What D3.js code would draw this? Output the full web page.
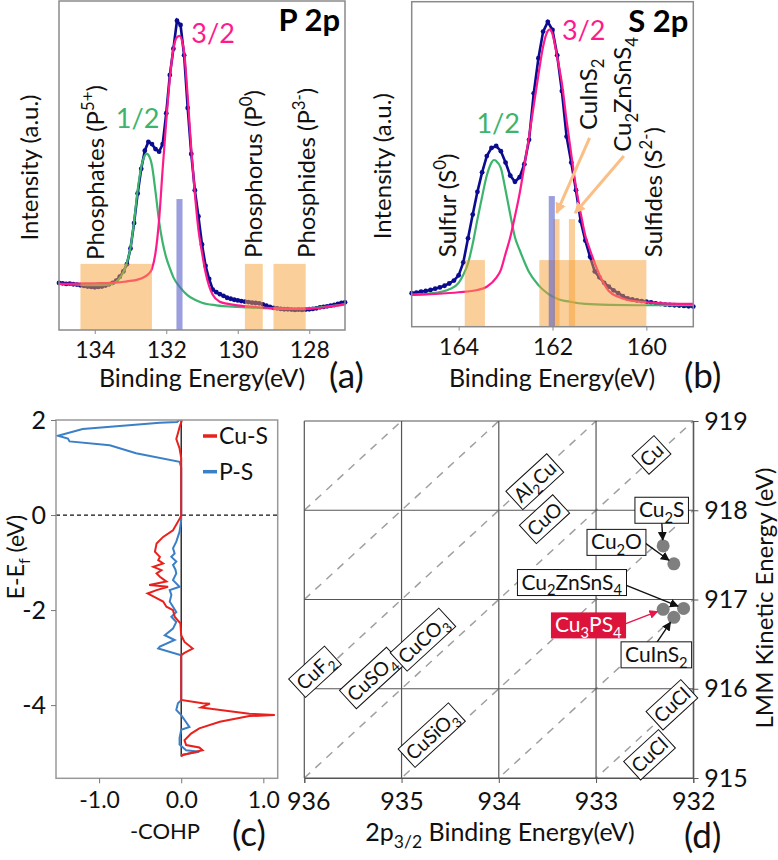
<!DOCTYPE html>
<meta charset="utf-8">
<style>
  body { margin: 0; background: #fff; }
  svg { display: block; }
</style>
<body>
<div id="my_dataviz"></div>
<script src="https://d3js.org/d3.v7.min.js"></script>
<script>

// ---------- (a) P 2p : [binding energy (eV), intensity (a.u.)] ----------
var p2pData = [
  [135.0,14.3],[134.9,14.2],[134.8,14.0],[134.7,14.1],[134.6,13.9],[134.5,13.8],[134.4,13.6],[134.3,13.4],
  [134.2,13.2],[134.1,13.1],[134.0,13.0],[133.9,13.1],[133.8,13.2],[133.7,13.5],[133.6,13.9],[133.5,14.3],
  [133.4,15.0],[133.3,16.2],[133.2,17.8],[133.1,20.0],[133.0,24.8],[132.9,32.5],[132.8,41.5],[132.7,49.0],
  [132.6,54.5],[132.5,57.2],[132.4,56.5],[132.3,55.0],[132.2,54.2],[132.1,56.5],[132.0,65.9],[131.9,77.5],
  [131.8,85.5],[131.7,94.0],[131.6,92.7],[131.5,83.5],[131.4,67.5],[131.3,53.5],[131.2,42.5],[131.1,34.5],
  [131.0,26.0],[130.9,19.5],[130.8,15.5],[130.7,12.3],[130.6,11.5],[130.5,10.9],[130.4,10.4],[130.3,9.8],
  [130.2,9.5],[130.1,9.2],[130.0,9.0],[129.9,8.8],[129.8,8.6],[129.7,8.5],[129.6,8.3],[129.5,8.2],
  [129.4,8.1],[129.3,7.8],[129.2,7.4],[129.1,7.0],[129.0,6.7],[128.9,6.6],[128.8,6.4],[128.7,6.3],
  [128.6,6.3],[128.5,6.2],[128.4,6.1],[128.3,6.2],[128.2,6.1],[128.1,6.2],[128.0,6.3],[127.9,6.4],
  [127.8,6.6],[127.7,6.9],[127.6,7.0],[127.5,7.2],[127.4,7.4],[127.3,7.6],[127.2,7.9],[127.1,8.2],[127.0,8.4]
];
var p2pFit12 = [
  [135.0,14.0],[134.5,13.8],[134.0,13.6],[133.6,13.8],[133.4,14.6],[133.3,15.8],[133.2,17.6],[133.1,20.5],
  [133.0,25.0],[132.9,33.0],[132.8,42.5],[132.7,49.5],[132.6,53.0],[132.55,53.6],[132.5,53.2],[132.4,50.0],
  [132.3,42.0],[132.2,33.0],[132.1,26.5],[132.0,22.0],[131.9,18.8],[131.8,16.0],[131.6,12.8],[131.4,10.5],
  [131.2,9.2],[131.0,8.3],[130.6,7.5],[130.0,7.0],[129.4,6.7],[128.8,6.5],[128.0,6.6],[127.5,7.1],[127.0,7.9]
];
var p2pFit32 = [
  [135.0,14.0],[134.5,14.1],[134.0,14.2],[133.5,14.3],[133.1,14.8],[132.8,15.3],[132.6,16.2],[132.5,17.0],
  [132.4,18.6],[132.3,23.5],[132.2,33.5],[132.1,49.0],[132.0,63.5],[131.9,76.5],[131.8,85.5],[131.7,89.0],
  [131.63,89.4],[131.55,87.5],[131.5,84.5],[131.4,71.0],[131.3,55.0],[131.2,41.5],[131.1,30.5],[131.0,23.5],
  [130.9,17.5],[130.8,13.3],[130.7,10.7],[130.5,8.6],[130.3,8.0],[130.0,7.5],[129.5,7.0],[129.0,6.6],
  [128.5,6.4],[128.0,6.5],[127.5,7.0],[127.0,7.8]
];
var p2pRanges = [[134.4,132.4,20.1],[129.8,129.3,20.1],[129.0,128.1,20.1]];   // [from, to, height]
var p2pRefLines = [[131.63,39.8,0.17]];                                          // [energy, height, width]
var p2pLabels = [
  {text:"Phosphates (P^{5+})", e:133.74, i:21.3},
  {text:"Phosphorus (P^0)", e:129.32, i:21.9},
  {text:"Phosphides (P^{3-})", e:127.85, i:21.9}
];

// ---------- (b) S 2p ----------
var s2pData = [
  [165.0,10.3],[164.9,10.5],[164.8,10.8],[164.7,11.0],[164.6,11.3],[164.5,11.7],[164.4,12.1],[164.3,12.6],
  [164.2,13.3],[164.1,14.2],[164.0,15.8],[163.9,19.8],[163.8,27.2],[163.7,34.5],[163.6,41.5],[163.5,47.5],
  [163.4,52.5],[163.3,55.0],[163.2,55.6],[163.1,54.0],[163.0,50.5],[162.9,46.5],[162.8,44.6],[162.7,46.0],
  [162.6,50.0],[162.5,57.5],[162.4,71.8],[162.3,82.6],[162.2,90.8],[162.1,93.8],[162.0,91.3],[161.9,83.5],
  [161.8,72.5],[161.7,58.5],[161.6,50.5],[161.5,42.0],[161.4,32.5],[161.3,26.5],[161.2,21.5],[161.1,17.0],
  [161.0,15.2],[160.9,13.5],[160.8,12.3],[160.7,11.2],[160.6,10.3],[160.5,9.4],[160.4,8.7],[160.3,8.4],
  [160.2,8.1],[160.1,7.9],[160.0,7.7],[159.9,7.5],[159.8,7.2],[159.7,7.0],[159.6,6.8],[159.5,6.7],
  [159.4,6.6],[159.3,6.5],[159.2,6.4],[159.1,6.3],[159.0,6.2]
];
var s2pFit12 = [
  [165.0,9.8],[164.5,10.4],[164.2,11.5],[164.0,13.5],[163.9,16.0],[163.8,19.5],[163.7,25.5],[163.6,33.0],
  [163.5,40.0],[163.4,46.5],[163.3,50.5],[163.25,51.3],[163.2,51.0],[163.1,48.8],[163.0,42.0],[162.9,34.5],
  [162.8,27.5],[162.7,23.6],[162.6,20.0],[162.5,16.8],[162.3,12.8],[162.1,10.2],[161.9,8.6],[161.6,7.6],
  [161.3,7.0],[160.8,6.7],[160.0,6.6],[159.0,6.6]
];
var s2pFit32 = [
  [165.0,9.8],[164.5,10.1],[164.0,10.6],[163.6,11.3],[163.4,12.3],[163.2,15.0],[163.1,17.5],[163.0,22.5],
  [162.9,27.5],[162.8,34.0],[162.7,41.0],[162.6,49.5],[162.5,58.5],[162.4,68.0],[162.3,77.5],[162.2,86.2],
  [162.1,91.0],[162.05,91.5],[162.0,90.0],[161.9,83.0],[161.8,74.9],[161.7,63.5],[161.6,53.0],[161.5,43.0],
  [161.4,35.0],[161.3,28.0],[161.2,23.6],[161.0,16.0],[160.8,11.0],[160.6,9.2],[160.4,8.2],[160.0,7.5],
  [159.5,7.1],[159.0,7.0]
];
var s2pRanges = [[163.87,163.44,20.5],[162.28,160.0,20.5],[161.98,161.85,33.1],[161.65,161.52,33.1]];
var s2pRefLines = [[162.015,40.2,0.13]];
var s2pLabels = [
  {text:"Sulfur (S^0)", e:164.05, i:21.4},
  {text:"CuInS_2", e:161.05, i:60.5},
  {text:"Cu_2ZnSnS_4", e:160.33, i:53.8},
  {text:"Sulfides (S^{2-})", e:159.66, i:21.4}
];
var s2pArrows = [[161.21,58.1,161.91,35.0],[160.48,52.5,161.52,35.0]];

// ---------- (c) COHP : [E - Ef (eV), -COHP] ----------
var cohpCuS = [
  [2.00,0.01],[1.85,-0.02],[1.72,-0.04],[1.60,-0.06],[1.40,-0.02],[1.20,0.00],[0.00,0.00],[-0.05,-0.01],
  [-0.32,-0.10],[-0.46,-0.22],[-0.60,-0.30],[-0.77,-0.32],[-0.88,-0.26],[-0.95,-0.28],[-1.02,-0.22],
  [-1.09,-0.34],[-1.16,-0.24],[-1.23,-0.30],[-1.30,-0.26],[-1.40,-0.18],[-1.47,-0.39],[-1.51,-0.16],
  [-1.58,-0.30],[-1.65,-0.41],[-1.75,-0.30],[-1.82,-0.22],[-1.93,-0.18],[-2.00,-0.10],[-2.14,-0.08],
  [-2.28,-0.01],[-2.53,0.00],[-2.67,0.04],[-2.81,0.14],[-2.90,0.04],[-2.95,0.00],[-3.89,0.00],[-3.96,0.26],
  [-3.97,0.35],[-4.05,0.24],[-4.18,0.83],[-4.21,1.14],[-4.23,0.83],[-4.35,0.47],[-4.49,0.22],[-4.60,0.12],
  [-4.74,0.04],[-4.84,0.06],[-4.89,0.22],[-4.95,0.26],[-4.98,0.18],[-5.05,0.02],[-5.08,0.00]
];
var cohpPS = [
  [2.00,-0.02],[1.96,-0.05],[1.94,-0.26],[1.81,-1.20],[1.67,-1.50],[1.61,-1.38],[1.55,-1.36],[1.47,-0.87],
  [1.30,-0.55],[1.12,-0.02],[1.00,0.00],[0.00,0.00],[-0.10,0.00],[-0.35,-0.02],[-0.56,-0.06],[-0.70,-0.10],
  [-0.81,-0.08],[-0.88,-0.12],[-0.98,-0.06],[-1.05,-0.10],[-1.15,-0.07],[-1.23,-0.06],[-1.37,-0.10],
  [-1.51,-0.02],[-1.58,-0.14],[-1.68,-0.12],[-1.82,-0.14],[-1.93,-0.10],[-2.04,-0.06],[-2.14,-0.12],
  [-2.25,-0.06],[-2.39,-0.10],[-2.53,-0.20],[-2.63,-0.08],[-2.77,-0.26],[-2.81,-0.28],[-2.95,0.00],
  [-3.90,0.00],[-3.96,-0.04],[-4.10,-0.06],[-4.21,0.00],[-4.46,0.10],[-4.52,0.00],[-4.69,-0.02],
  [-4.83,-0.02],[-4.95,0.06],[-4.98,0.22],[-5.02,0.10],[-5.05,0.00]
];
var cohpSeries = ["Cu-S", "P-S"];
var cohpColors = ["#e8211d", "#3b80c6"];

// ---------- (d) Wagner plot : [2p3/2 BE, LMM KE] ----------
var augerParams = [1848, 1849, 1850, 1851, 1852, 1853, 1854];
var refCompounds = ["Cu","Al_2Cu","CuO","CuF_2","CuSO_4","CuCO_3","CuSiO_3","CuCl","CuCl"];
var refBE = [932.43, 933.63, 933.53, 935.89, 935.31, 934.78, 934.69, 932.22, 932.45];
var refKE = [918.62, 918.32, 917.90, 916.19, 916.12, 916.55, 915.48, 915.82, 915.26];
var sampleNames = ["Cu_2S","Cu_2O","Cu_2ZnSnS_4","Cu_3PS_4","CuInS_2"];
var sampleBE = [932.31, 932.20, 932.10, 932.31, 932.20];
var sampleKE = [917.60, 917.40, 916.90, 916.89, 916.80];
var sampleLabelBE = [932.325, 932.79, 933.25, 933.08, 932.38];
var sampleLabelKE = [918.00, 917.64, 917.19, 916.71, 916.38];
var sampleArrowBE = [932.325, 932.53, 932.74, 932.74, 932.38];
var sampleArrowKE = [917.88, 917.66, 917.18, 916.71, 916.51];

var FONT = "Lato, 'Open Sans', sans-serif";
var NAVY = "#0b0b8f", GREEN = "#3cb46e", PINK = "#ff1a8c", ORANGE = "#f7a035";

var svg = d3.select("#my_dataviz").append("svg")
  .attr("width", 778).attr("height", 860)
  .attr("font-family", FONT);

var defs = svg.append("defs");
function marker(id, color, size) {
  defs.append("marker").attr("id", id)
    .attr("viewBox", "0 0 10 10").attr("refX", 9).attr("refY", 5)
    .attr("markerWidth", size).attr("markerHeight", size)
    .attr("markerUnits", "userSpaceOnUse").attr("orient", "auto")
    .append("path").attr("d", "M0,0L10,5L0,10z").attr("fill", color);
}
marker("arrOrange", "#fbbf86", 11);
marker("arrBlack", "#111", 9);
marker("arrRed", "#e8174a", 9);

// text with _sub and ^sup parts
function rich(sel, str, size) {
  var parts = str.split(/(_\{[^}]*\}|\^\{[^}]*\}|_[^{]|\^[^{])/).filter(function(s) { return s.length; });
  var shift = 0;
  parts.forEach(function(p) {
    var type = null, t = p;
    if (p[0] === "_" || p[0] === "^") { type = p[0]; t = p[1] === "{" ? p.slice(2, -1) : p.slice(1); }
    var target = type === "_" ? size * 0.28 : type === "^" ? -size * 0.42 : 0;
    sel.append("tspan").attr("dy", target - shift)
      .attr("font-size", type ? size * 0.7 : size).text(t);
    shift = target;
  });
  return sel;
}

// ---------- XPS panels ----------
function xpsPanel(o) {
  var x = d3.scaleLinear().domain(o.xDomain).range([o.left, o.right]);
  var y = d3.scaleLinear().domain([0, 100]).range([o.bottom, o.top]);
  var g = svg.append("g");
  var line = d3.line().x(function(d) { return x(d[0]); }).y(function(d) { return y(d[1]); });

  g.append("path").datum(o.data).attr("fill", "none").attr("stroke", NAVY)
    .attr("stroke-width", 2.6).attr("d", line);
  g.selectAll(".dot").data(o.data).enter().append("circle")
    .attr("cx", function(d) { return x(d[0]); }).attr("cy", function(d) { return y(d[1]); })
    .attr("r", 2.4).attr("fill", NAVY);

  var smooth = line.curve(d3.curveMonotoneX);
  g.append("path").datum(o.fit12).attr("fill", "none").attr("stroke", GREEN)
    .attr("stroke-width", 2.2).attr("d", smooth);
  g.append("path").datum(o.fit32).attr("fill", "none").attr("stroke", PINK)
    .attr("stroke-width", 2.2).attr("d", smooth);

  // reference ranges
  g.selectAll(".range").data(o.ranges).enter().append("rect")
    .attr("x", function(d) { return x(d[0]); })
    .attr("width", function(d) { return x(d[1]) - x(d[0]); })
    .attr("y", function(d) { return y(d[2]); })
    .attr("height", function(d) { return y(0) - y(d[2]); })
    .attr("fill", ORANGE).attr("opacity", 0.5);
  g.selectAll(".refline").data(o.refLines).enter().append("rect")
    .attr("x", function(d) { return x(d[0] + d[2] / 2); })
    .attr("width", function(d) { return x(d[0] - d[2] / 2) - x(d[0] + d[2] / 2); })
    .attr("y", function(d) { return y(d[1]); })
    .attr("height", function(d) { return y(0) - y(d[1]); })
    .attr("fill", "#5a5fc8").attr("opacity", 0.6);

  if (o.arrows) {
    g.selectAll(".arr").data(o.arrows).enter().append("line")
      .attr("x1", function(d) { return x(d[0]); }).attr("y1", function(d) { return y(d[1]); })
      .attr("x2", function(d) { return x(d[2]); }).attr("y2", function(d) { return y(d[3]); })
      .attr("stroke", "#fbbf86").attr("stroke-width", 3).attr("marker-end", "url(#arrOrange)");
  }

  // frame
  g.append("rect").attr("x", o.left).attr("y", o.top)
    .attr("width", o.right - o.left).attr("height", o.bottom - o.top)
    .attr("fill", "none").attr("stroke", "#8a8a8a").attr("stroke-width", 1.5);

  var ax = g.append("g").attr("transform", "translate(0," + o.bottom + ")")
    .call(d3.axisBottom(x).tickValues(o.ticks).tickSize(4).tickFormat(d3.format("d")));
  ax.select(".domain").remove();
  ax.selectAll("line").attr("stroke", "#8a8a8a");
  ax.selectAll("text").attr("font-family", FONT).attr("font-size", 23)
    .attr("fill", "#111").attr("dy", 0).attr("y", 28);

  // labels
  o.labels.forEach(function(l) {
    rich(g.append("text").attr("transform", "translate(" + x(l.e) + "," + y(l.i) + ") rotate(-90)")
      .attr("fill", "#111"), l.text, 24);
  });
  g.append("text").attr("x", x(o.half[0])).attr("y", y(o.half[1]))
    .attr("fill", GREEN).attr("font-size", 27).text("1/2");
  g.append("text").attr("x", x(o.threeHalf[0])).attr("y", y(o.threeHalf[1]))
    .attr("fill", PINK).attr("font-size", 27).text("3/2");
  g.append("text").attr("x", o.right - 5).attr("y", o.top + 30).attr("text-anchor", "end")
    .attr("font-weight", "bold").attr("font-size", 31).attr("fill", "#000").text(o.title);

  g.append("text").attr("transform", "translate(" + (o.left - 21) + "," + ((o.top + o.bottom) / 2 + 2) + ") rotate(-90)")
    .attr("text-anchor", "middle").attr("font-size", 24).attr("fill", "#111").text("Intensity (a.u.)");
  g.append("text").attr("x", o.xLabelX).attr("y", 387).attr("text-anchor", "middle")
    .attr("font-size", 25).attr("fill", "#111").text("Binding Energy(eV)");
  g.append("text").attr("x", o.tagX).attr("y", 388).attr("font-size", 35).attr("fill", "#111").text(o.tag);
}

xpsPanel({
  left: 59, right: 345, top: 1, bottom: 330, xDomain: [135, 127], ticks: [134, 132, 130, 128],
  data: p2pData, fit12: p2pFit12, fit32: p2pFit32, ranges: p2pRanges, refLines: p2pRefLines,
  labels: p2pLabels, half: [133.41, 61.3], threeHalf: [131.30, 87.1],
  title: "P 2p", xLabelX: 202, tagX: 329, tag: "(a)"
});
xpsPanel({
  left: 411.7, right: 693.3, top: 1.7, bottom: 326.7, xDomain: [165, 159], ticks: [164, 162, 160],
  data: s2pData, fit12: s2pFit12, fit32: s2pFit32, ranges: s2pRanges, refLines: s2pRefLines,
  arrows: s2pArrows, labels: s2pLabels, half: [163.62, 59.5], threeHalf: [161.80, 88.2],
  title: "S 2p", xLabelX: 552, tagX: 684, tag: "(b)"
});

// ---------- (c) COHP panel ----------
(function() {
  var L = 56, R = 277.7, T = 420, B = 778.3;
  var x = d3.scaleLinear().domain([-1.525, 1.175]).range([L, R]);
  var y = d3.scaleLinear().domain([-5.54, 2]).range([B, T]);
  var g = svg.append("g");
  defs.append("clipPath").attr("id", "clipC").append("rect")
    .attr("x", L).attr("y", T).attr("width", R - L).attr("height", B - T);

  g.append("line").attr("x1", L).attr("x2", R).attr("y1", y(0)).attr("y2", y(0))
    .attr("stroke", "#111").attr("stroke-width", 1.3).attr("stroke-dasharray", "4,3");
  g.append("line").attr("x1", x(0)).attr("x2", x(0)).attr("y1", y(2)).attr("y2", y(-5.08))
    .attr("stroke", "#222").attr("stroke-width", 1.4);

  var line = d3.line().x(function(d) { return x(d[1]); }).y(function(d) { return y(d[0]); });
  var cg = g.append("g").attr("clip-path", "url(#clipC)");
  cg.append("path").datum(cohpPS).attr("fill", "none").attr("stroke", cohpColors[1])
    .attr("stroke-width", 2).attr("d", line);
  cg.append("path").datum(cohpCuS).attr("fill", "none").attr("stroke", cohpColors[0])
    .attr("stroke-width", 2).attr("d", line);

  g.append("rect").attr("x", L).attr("y", T).attr("width", R - L).attr("height", B - T)
    .attr("fill", "none").attr("stroke", "#999").attr("stroke-width", 1.5);

  var ax = g.append("g").attr("transform", "translate(0," + B + ")")
    .call(d3.axisBottom(x).tickValues([-1, 0, 1]).tickSize(5).tickFormat(function(d) { return d.toFixed(1); }));
  ax.select(".domain").remove();
  ax.selectAll("line").attr("stroke", "#777");
  ax.selectAll("text").attr("font-family", FONT).attr("font-size", 23).attr("fill", "#111")
    .attr("dy", 0).attr("y", 30);
  var ay = g.append("g").attr("transform", "translate(" + L + ",0)")
    .call(d3.axisLeft(y).tickValues([2, 0, -2, -4]).tickSize(5).tickFormat(function(d) { return String(d); }));
  ay.select(".domain").remove();
  ay.selectAll("line").attr("stroke", "#777");
  ay.selectAll("text").attr("font-family", FONT).attr("font-size", 25).attr("fill", "#111").attr("x", -10);

  cohpSeries.forEach(function(s, i) {
    var ly = 436 + i * 35.7;
    g.append("line").attr("x1", 203).attr("x2", 217).attr("y1", ly).attr("y2", ly)
      .attr("stroke", cohpColors[i]).attr("stroke-width", 3.5);
    g.append("text").attr("x", 219).attr("y", ly + 8).attr("font-size", 23).attr("fill", "#111").text(s);
  });

  g.append("text").attr("x", 165).attr("y", 839).attr("text-anchor", "middle")
    .attr("font-size", 22).attr("fill", "#111").text("-COHP");
  g.append("text").attr("x", 232).attr("y", 846).attr("font-size", 35).attr("fill", "#111").text("(c)");
  rich(g.append("text").attr("transform", "translate(24,557) rotate(-90)").attr("text-anchor", "middle")
    .attr("fill", "#111"), "E-E_f (eV)", 23);
})();

// ---------- (d) Wagner plot ----------
(function() {
  var L = 304.3, R = 693.3, T = 421, B = 778;
  var x = d3.scaleLinear().domain([936, 932]).range([L, R]);
  var y = d3.scaleLinear().domain([915, 919]).range([B, T]);
  var g = svg.append("g");
  defs.append("clipPath").attr("id", "clipD").append("rect")
    .attr("x", L).attr("y", T).attr("width", R - L).attr("height", B - T);

  g.append("g").attr("clip-path", "url(#clipD)").selectAll("line").data(augerParams).enter().append("line")
    .attr("x1", x(936)).attr("y1", function(a) { return y(a - 936); })
    .attr("x2", x(932)).attr("y2", function(a) { return y(a - 932); })
    .attr("stroke", "#a0a0a0").attr("stroke-width", 1.5).attr("stroke-dasharray", "8,7");

  g.selectAll(".vg").data(d3.range(932, 937)).enter().append("line")
    .attr("x1", x).attr("x2", x).attr("y1", T).attr("y2", B)
    .attr("stroke", "#555").attr("stroke-width", 1.2);
  g.selectAll(".hg").data(d3.range(915, 920)).enter().append("line")
    .attr("x1", L).attr("x2", R).attr("y1", y).attr("y2", y)
    .attr("stroke", "#555").attr("stroke-width", 1.2);

  var ax = g.append("g").attr("transform", "translate(0," + B + ")")
    .call(d3.axisBottom(x).tickValues(d3.range(932, 937)).tickSize(5).tickFormat(d3.format("d")));
  ax.select(".domain").attr("stroke", "#555");
  ax.selectAll("line").attr("stroke", "#555");
  ax.selectAll("text").attr("font-family", FONT).attr("font-size", 25).attr("fill", "#111")
    .attr("dy", 0).attr("y", 32);
  ax.selectAll(".tick").filter(function(d) { return d === 936; }).select("text").attr("x", 4);
  var ay = g.append("g").attr("transform", "translate(" + R + ",0)")
    .call(d3.axisRight(y).tickValues(d3.range(915, 920)).tickSize(5).tickFormat(d3.format("d")));
  ay.select(".domain").attr("stroke", "#555");
  ay.selectAll("line").attr("stroke", "#555");
  ay.selectAll("text").attr("font-family", FONT).attr("font-size", 25).attr("fill", "#111").attr("x", 11);

  // rotated reference labels along the Auger-parameter lines
  var ang = -Math.atan(Math.abs((y(915) - y(916)) / (x(933) - x(932)))) * 180 / Math.PI;
  refCompounds.forEach(function(n, i) {
    var lg = g.append("g").attr("transform", "translate(" + x(refBE[i]) + "," + y(refKE[i]) + ") rotate(" + ang + ")");
    var t = rich(lg.append("text").attr("text-anchor", "middle").attr("y", 7).attr("fill", "#111"), n, 19.5);
    var bb = t.node().getBBox();
    lg.insert("rect", "text").attr("x", bb.x - 3).attr("y", -12.5).attr("width", bb.width + 6).attr("height", 25)
      .attr("fill", "#fff").attr("stroke", "#111").attr("stroke-width", 1);
  });

  g.selectAll(".pt").data(sampleBE).enter().append("circle")
    .attr("cx", function(d) { return x(d); }).attr("cy", function(d, i) { return y(sampleKE[i]); })
    .attr("r", 6.5).attr("fill", "#7f7f7f");

  sampleNames.forEach(function(n, i) {
    var red = n === "Cu_3PS_4";
    var x1 = x(sampleArrowBE[i]), y1 = y(sampleArrowKE[i]);
    var x2 = x(sampleBE[i]), y2 = y(sampleKE[i]);
    var d = Math.hypot(x2 - x1, y2 - y1), k = (d - 6) / d;
    g.append("line").attr("x1", x1).attr("y1", y1)
      .attr("x2", x1 + (x2 - x1) * k).attr("y2", y1 + (y2 - y1) * k)
      .attr("stroke", red ? "#e8174a" : "#111").attr("stroke-width", 1.4)
      .attr("marker-end", red ? "url(#arrRed)" : "url(#arrBlack)");

    var lg = g.append("g").attr("transform", "translate(" + x(sampleLabelBE[i]) + "," + y(sampleLabelKE[i]) + ")");
    var t = rich(lg.append("text").attr("text-anchor", "middle").attr("y", 7)
      .attr("fill", red ? "#fff" : "#111"), n, 21);
    var bb = t.node().getBBox();
    lg.insert("rect", "text").attr("x", bb.x - 4).attr("y", -13).attr("width", bb.width + 8).attr("height", 26)
      .attr("fill", red ? "#dc143c" : "#fff").attr("stroke", red ? "none" : "#111").attr("stroke-width", 1);
  });

  rich(g.append("text").attr("x", 500).attr("y", 841).attr("text-anchor", "middle").attr("fill", "#111"),
    "2p_{3/2} Binding Energy(eV)", 25);
  g.append("text").attr("x", 684).attr("y", 848).attr("font-size", 35).attr("fill", "#111").text("(d)");
  g.append("text").attr("transform", "translate(773,598) rotate(-90)").attr("text-anchor", "middle")
    .attr("font-size", 24).attr("fill", "#111").text("LMM Kinetic Energy (eV)");
})();

</script>
</body>
